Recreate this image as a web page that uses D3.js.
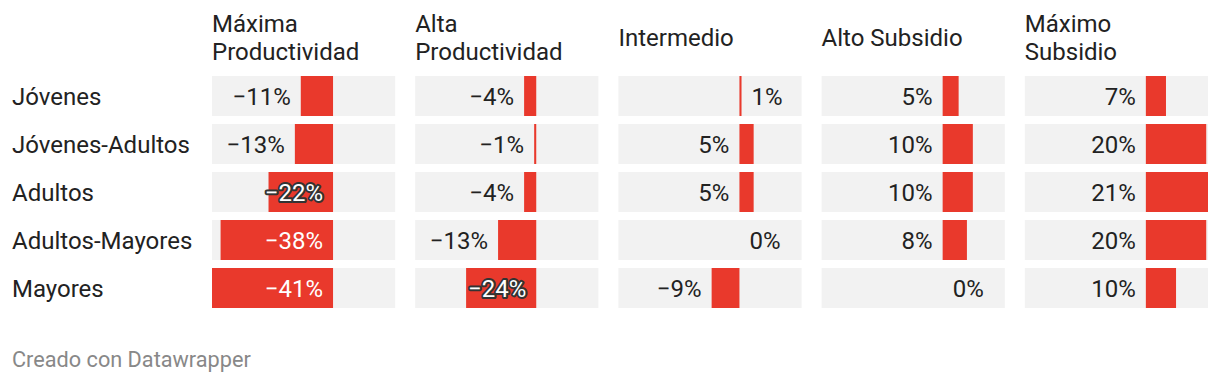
<!DOCTYPE html>
<html>
<head>
<meta charset="utf-8">
<script src="https://cdn.jsdelivr.net/npm/d3@7"></script>
<style>
  html, body { margin: 0; padding: 0; background: #fff; }
  svg { display: block; font-family: Roboto, "Noto Sans", sans-serif; }
</style>
</head>
<body>
<div id="chart"></div>
<script>
// filas y columnas
const rowLabels = ["Jóvenes", "Jóvenes-Adultos", "Adultos", "Adultos-Mayores", "Mayores"];
const columns = ["Máxima Productividad", "Alta Productividad", "Intermedio", "Alto Subsidio", "Máximo Subsidio"];
const headerLines = [["Máxima", "Productividad"], ["Alta", "Productividad"], ["Intermedio"], ["Alto Subsidio"], ["Máximo", "Subsidio"]];

// valores (%) por columna, en el orden de rowLabels
const maximaProductividad = [-10.9, -12.9, -21.8, -38.0, -40.9];
const altaProductividad = [-4.1, -0.7, -4.1, -12.9, -23.7];
const intermedio = [0.7, 4.8, 4.8, 0.0, -9.4];
const altoSubsidio = [5.4, 10.2, 10.2, 8.2, 0.0];
const maximoSubsidio = [6.8, 20.4, 21.0, 20.4, 10.2];

const series = [maximaProductividad, altaProductividad, intermedio, altoSubsidio, maximoSubsidio];
const footer = "Creado con Datawrapper";

const W = 1220, H = 384;
const red = "#e9392c", bg = "#f2f2f2", ink = "#222";
const fs = "24px";

const svg = d3.select("#chart").append("svg")
  .attr("width", W).attr("height", H);

const colX = d3.scaleBand().domain(columns).range([212, 1208]).paddingInner(0.0985);
const rowY = d3.scaleBand().domain(rowLabels).range([76, 308]).paddingInner(8 / 48);

const all = series.flat();
const x = d3.scaleLinear().domain(d3.extent(all)).range([0, colX.bandwidth()]);
const fmt = v => d3.format(".0f")(v) + "%";

// cabeceras
columns.forEach((c, ci) => {
  const lines = headerLines[ci];
  const t = svg.append("text")
    .attr("x", colX(c))
    .style("font-size", fs)
    .style("fill", ink);
  lines.forEach((l, li) => {
    t.append("tspan")
      .attr("x", colX(c))
      .attr("y", 45.5 + (li - (lines.length - 1) / 2) * 28)
      .text(l);
  });
});

// etiquetas de fila
svg.selectAll("text.row")
  .data(rowLabels)
  .enter().append("text")
  .attr("class", "row")
  .attr("x", 12)
  .attr("y", d => rowY(d) + rowY.bandwidth() / 2 + 8.5)
  .style("font-size", fs)
  .style("fill", ink)
  .text(d => d);

// celdas
columns.forEach((c, ci) => {
  const g = svg.append("g").attr("transform", `translate(${colX(c)},0)`);
  const zero = x(0);
  const cells = series[ci].map((v, ri) => ({ v, row: rowLabels[ri] }));

  g.selectAll("rect.bg")
    .data(cells)
    .enter().append("rect")
    .attr("class", "bg")
    .attr("x", 0)
    .attr("y", d => rowY(d.row))
    .attr("width", colX.bandwidth())
    .attr("height", rowY.bandwidth())
    .style("fill", bg);

  g.selectAll("rect.bar")
    .data(cells)
    .enter().append("rect")
    .attr("class", "bar")
    .attr("x", d => Math.min(x(d.v), zero))
    .attr("y", d => rowY(d.row))
    .attr("width", d => Math.abs(x(d.v) - zero))
    .attr("height", rowY.bandwidth())
    .style("fill", red);

  cells.forEach(d => {
    const yb = rowY(d.row) + rowY.bandwidth() / 2 + 8.5;
    const t = g.append("text")
      .attr("y", yb)
      .style("font-size", fs)
      .text(fmt(d.v));
    const tw = t.node().getComputedTextLength();
    const barW = Math.abs(x(d.v) - zero);
    if (d.v < 0) {
      const start = x(d.v);
      if (start - tw - 10 >= 5) {
        // fuera, a la izquierda de la barra
        t.attr("x", start - 10).attr("text-anchor", "end").style("fill", ink);
      } else {
        t.attr("x", zero - 10).attr("text-anchor", "end").style("fill", "#fff");
        if (barW < tw + 30) {
          t.style("stroke", "#333").style("stroke-width", 4)
            .style("stroke-linejoin", "round").style("paint-order", "stroke");
        }
      }
    } else {
      const end = x(d.v);
      if (colX.bandwidth() - end >= 55) {
        t.attr("x", end + 10).attr("text-anchor", "start").style("fill", ink);
      } else {
        t.attr("x", zero - 10).attr("text-anchor", "end").style("fill", ink);
      }
    }
  });
});

svg.append("text")
  .attr("x", 12)
  .attr("y", 367)
  .style("font-size", "21.7px")
  .style("fill", "#888")
  .text(footer);
</script>
</body>
</html>
